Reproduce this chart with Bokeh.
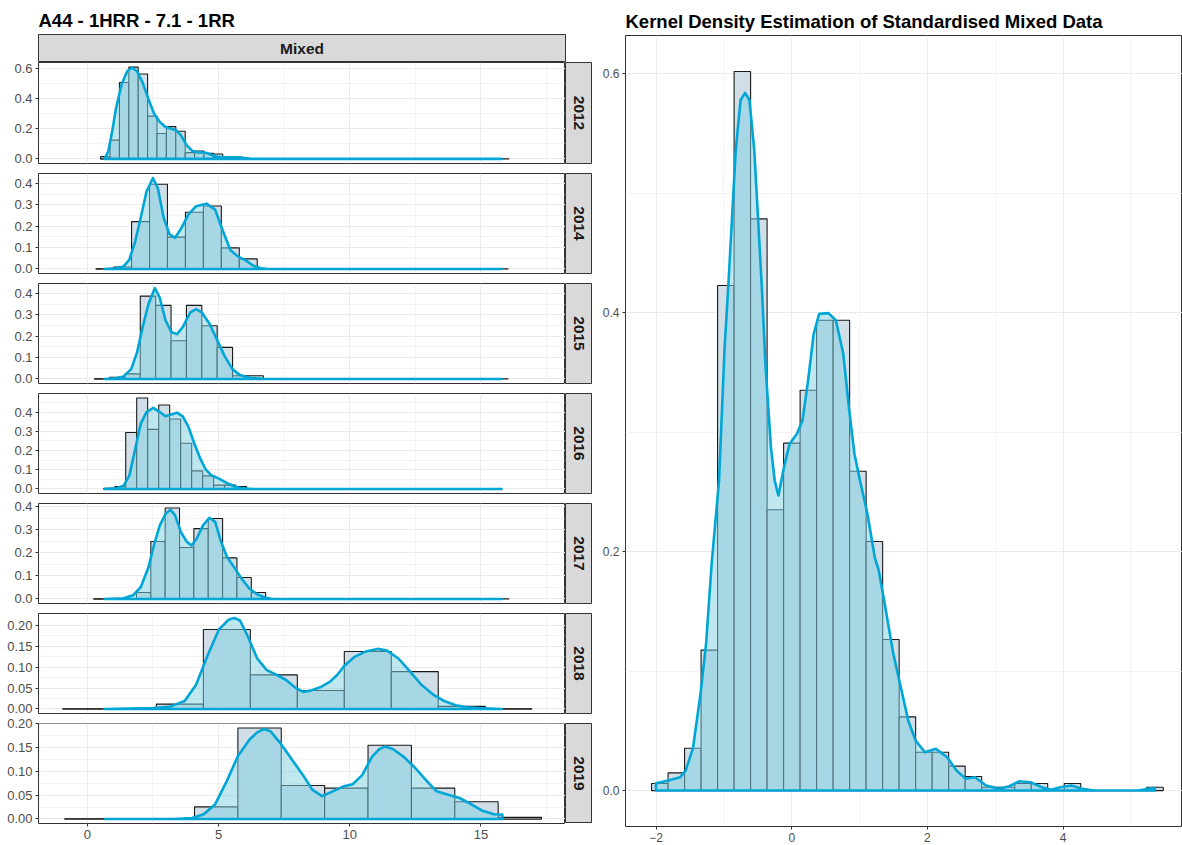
import math
from bokeh.plotting import figure
from bokeh.models import Range1d, FixedTicker, NumeralTickFormatter
from bokeh.layouts import row, column
from bokeh.embed import file_html
from bokeh.resources import INLINE
from bokeh.core.properties import value

FONT = "Liberation Sans"
HIST_FILL = "#d1dee7"
HIST_LINE = "#1a1a1a"
DENS_FILL = "#7dcfe1"
DENS_LINE = "#00a6d6"
STRIP_FILL = "#d9d9d9"
BORDER = "#333333"
GRID = "#ebebeb"

# ---------------- faceted panels: raw mixed values per year ----------------
YEARS = [2012, 2014, 2015, 2016, 2017, 2018, 2019]

# histogram bins: first edge, bin width, bin densities, right end of binned span
hist_start = [0.509, 0.320, 0.262, 0.626, 0.233, -0.946, -0.873]
hist_width = [0.358, 0.684, 0.586, 0.419, 0.547, 1.790, 1.653]
hist_end = [16.08, 16.05, 16.05, 15.75, 16.08, 16.95, 17.31]

hist_2012 = [0.015, 0.125, 0.508, 0.611, 0.565, 0.285, 0.169, 0.215, 0.184,
             0.042, 0.053, 0.037, 0.033, 0.012, 0.012]
hist_2014 = [0.0, 0.009, 0.222, 0.397, 0.149, 0.266, 0.295, 0.099, 0.047]
hist_2015 = [0.0, 0.008, 0.024, 0.388, 0.345, 0.179, 0.345, 0.249, 0.148, 0.015, 0.015]
hist_2016 = [0.003, 0.012, 0.294, 0.473, 0.310, 0.437, 0.364, 0.238, 0.094,
             0.068, 0.020, 0.020, 0.012]
hist_2017 = [0.0, 0.0, 0.0, 0.028, 0.249, 0.394, 0.223, 0.305, 0.349, 0.178, 0.093, 0.028]
hist_2018 = [0.0, 0.0, 0.0117, 0.1907, 0.0817, 0.0444, 0.1377, 0.0895, 0.0062, 0.0]
hist_2019 = [0.0, 0.0, 0.0, 0.0253, 0.191, 0.0703, 0.0648, 0.155, 0.0648, 0.0362, 0.0034]

# kernel density estimates (x, density)
dens_x_2012 = [0.655, 0.800, 0.946, 1.091, 1.309, 1.528, 1.702, 1.891, 2.110, 2.328, 2.546,
               2.764, 2.983, 3.201, 3.390, 3.565, 3.783, 4.001, 4.219, 4.438, 4.656, 4.874,
               5.165, 5.456, 5.820, 6.184, 6.911, 15.786]
dens_y_2012 = [0.0, 0.048, 0.180, 0.333, 0.497, 0.585, 0.607, 0.585, 0.508, 0.399, 0.300,
               0.245, 0.212, 0.201, 0.190, 0.158, 0.092, 0.053, 0.042, 0.044, 0.033, 0.018,
               0.011, 0.011, 0.009, 0.002, 0.0, 0.0]

dens_x_2014 = [0.655, 1.091, 1.382, 1.600, 1.819, 2.037, 2.255, 2.503, 2.692, 2.910, 3.128,
               3.346, 3.565, 3.856, 4.147, 4.540, 4.874, 5.165, 5.456, 5.747, 6.038, 6.329,
               6.620, 6.911, 15.786]
dens_y_2014 = [0.0, 0.003, 0.012, 0.043, 0.126, 0.240, 0.362, 0.426, 0.377, 0.240, 0.164,
               0.146, 0.187, 0.256, 0.294, 0.306, 0.278, 0.179, 0.088, 0.058, 0.040, 0.015,
               0.003, 0.0, 0.0]

dens_x_2015 = [0.655, 1.091, 1.382, 1.673, 1.891, 2.110, 2.328, 2.575, 2.764, 2.983, 3.201,
               3.419, 3.637, 3.928, 4.147, 4.365, 4.656, 4.947, 5.238, 5.529, 5.820, 6.184,
               6.766, 15.786]
dens_y_2015 = [0.0, 0.003, 0.012, 0.046, 0.122, 0.243, 0.350, 0.426, 0.380, 0.274, 0.220,
               0.210, 0.243, 0.312, 0.327, 0.312, 0.259, 0.183, 0.106, 0.046, 0.018, 0.006,
               0.0, 0.0]

dens_x_2016 = [0.655, 1.091, 1.382, 1.600, 1.819, 2.037, 2.255, 2.517, 2.764, 2.983, 3.201,
               3.419, 3.637, 3.856, 4.074, 4.292, 4.510, 4.729, 5.020, 5.311, 5.602, 5.893,
               6.329, 15.786]
dens_y_2016 = [0.0, 0.003, 0.017, 0.068, 0.204, 0.340, 0.400, 0.422, 0.400, 0.378, 0.388,
               0.397, 0.378, 0.323, 0.238, 0.162, 0.102, 0.071, 0.054, 0.031, 0.014, 0.003,
               0.0, 0.0]

dens_x_2017 = [0.655, 1.382, 1.746, 2.037, 2.328, 2.546, 2.764, 2.983, 3.172, 3.346, 3.565,
               3.783, 3.972, 4.176, 4.409, 4.656, 4.874, 5.092, 5.311, 5.602, 5.893, 6.184,
               6.475, 6.766, 7.057, 15.786]
dens_y_2017 = [0.0, 0.003, 0.016, 0.051, 0.136, 0.235, 0.319, 0.369, 0.387, 0.362, 0.291,
               0.249, 0.232, 0.263, 0.319, 0.352, 0.334, 0.249, 0.185, 0.136, 0.086, 0.044,
               0.020, 0.006, 0.0, 0.0]

dens_x_2018 = [0.655, 2.546, 3.128, 3.710, 4.147, 4.583, 5.020, 5.383, 5.602, 5.820, 6.111,
               6.475, 6.838, 7.202, 7.566, 7.930, 8.221, 8.512, 8.875, 9.239, 9.530, 9.821,
               10.185, 10.621, 11.058, 11.421, 11.858, 12.294, 12.731, 13.167, 13.604,
               14.040, 14.477, 14.913, 15.786]
dens_y_2018 = [0.0, 0.002, 0.005, 0.019, 0.058, 0.128, 0.191, 0.214, 0.218, 0.212, 0.175,
               0.121, 0.093, 0.082, 0.070, 0.051, 0.041, 0.044, 0.052, 0.065, 0.082, 0.105,
               0.125, 0.138, 0.144, 0.140, 0.121, 0.090, 0.058, 0.035, 0.019, 0.009,
               0.004, 0.002, 0.0]

dens_x_2019 = [0.684, 3.274, 4.001, 4.438, 4.874, 5.311, 5.747, 6.184, 6.475, 6.737, 6.984,
               7.348, 7.784, 8.221, 8.584, 8.948, 9.312, 9.748, 10.112, 10.476, 10.840,
               11.131, 11.349, 11.640, 12.076, 12.513, 12.949, 13.313, 13.749, 14.186,
               14.622, 15.059, 15.495, 15.815]
dens_y_2019 = [0.0, 0.0, 0.002, 0.010, 0.031, 0.079, 0.133, 0.167, 0.182, 0.189, 0.184,
               0.160, 0.126, 0.092, 0.061, 0.048, 0.057, 0.068, 0.073, 0.092, 0.130,
               0.147, 0.152, 0.147, 0.130, 0.106, 0.079, 0.058, 0.051, 0.044,
               0.031, 0.017, 0.010, 0.009]

hist_by_year = [hist_2012, hist_2014, hist_2015, hist_2016, hist_2017, hist_2018, hist_2019]
dens_x_by_year = [dens_x_2012, dens_x_2014, dens_x_2015, dens_x_2016, dens_x_2017, dens_x_2018, dens_x_2019]
dens_y_by_year = [dens_y_2012, dens_y_2014, dens_y_2015, dens_y_2016, dens_y_2017, dens_y_2018, dens_y_2019]

# axis ticks of the faceted panels
x_ticks = [0, 5, 10, 15]
x_minor = [2.5, 7.5, 12.5, 17.5]
y_ticks_wide = [0.0, 0.2, 0.4, 0.6]
y_minor_wide = [0.1, 0.3, 0.5]
y_ticks_mid = [0.0, 0.1, 0.2, 0.3, 0.4]
y_minor_mid = [0.05, 0.15, 0.25, 0.35, 0.45]
y_ticks_fine = [0.0, 0.05, 0.10, 0.15, 0.20]
y_minor_fine = [0.025, 0.075, 0.125, 0.175]
y_ticks_by_year = [y_ticks_wide] + [y_ticks_mid] * 4 + [y_ticks_fine] * 2
y_minor_by_year = [y_minor_wide] + [y_minor_mid] * 4 + [y_minor_fine] * 2
y_format_by_year = ["0.0"] * 5 + ["0.00"] * 2

# ---------------- standardised data (right panel) ----------------
std_hist_start = -2.066
std_hist_width = 0.2433
std_hist = [0.0059, 0.0148, 0.0354, 0.1175, 0.4228, 0.6019, 0.4785, 0.2350, 0.2908,
            0.3351, 0.3937, 0.3937, 0.2673, 0.2085, 0.1264, 0.0617, 0.0321, 0.0321,
            0.0204, 0.0117, 0.0028, 0.0028, 0.0059, 0.0059, 0.0, 0.0059, 0.0, 0.0,
            0.0, 0.0, 0.0028]
std_dens_x = [-2.000, -1.820, -1.645, -1.563, -1.454, -1.344, -1.262, -1.180, -1.071,
              -0.989, -0.934, -0.825, -0.754, -0.688, -0.623, -0.552, -0.442, -0.388,
              -0.306, -0.251, -0.196, -0.114, -0.032, 0.077, 0.159, 0.241, 0.323, 0.405,
              0.542, 0.651, 0.760, 0.842, 0.924, 1.006, 1.116, 1.225, 1.280, 1.362,
              1.498, 1.608, 1.717, 1.826, 1.963, 2.127, 2.291, 2.428, 2.565, 2.701,
              2.865, 3.056, 3.193, 3.357, 3.521, 3.685, 3.822, 3.958, 4.123, 4.286,
              4.451, 5.107, 5.325, 5.353]
std_dens_y = [0.006, 0.0084, 0.0112, 0.0167, 0.036, 0.081, 0.123, 0.190, 0.260,
              0.371, 0.423, 0.536, 0.578, 0.584, 0.578, 0.536, 0.423, 0.357,
              0.287, 0.2595, 0.247, 0.2707, 0.290, 0.2986, 0.3098, 0.343, 0.382, 0.399,
              0.3996, 0.3935, 0.3656, 0.321, 0.282, 0.2595, 0.2317, 0.195, 0.185, 0.159,
              0.1144, 0.0865, 0.0586, 0.0419, 0.0321, 0.0349, 0.0279, 0.0167, 0.0098, 0.0112,
              0.0042, 0.0014, 0.0033, 0.0078, 0.0070, 0.0028, 0.0006, 0.0028, 0.0042, 0.0014,
              0.0, 0.0, 0.0022, 0.0015]
std_x_ticks = [-2, 0, 2, 4]
std_x_minor = [-1, 1, 3, 5]
std_y_ticks = [0.0, 0.2, 0.4, 0.6]
std_y_minor = [0.1, 0.3, 0.5]

LEFT_TITLE = "A44 - 1HRR - 7.1 - 1RR"
RIGHT_TITLE = "Kernel Density Estimation of Standardised Mixed Data"
FACET_COL = "Mixed"

PANEL_W, PANEL_H, GAP, STRIP_W, LEFT_MARGIN = 527, 100, 10, 27, 38
TOP_PAD = 7  # room above each lower panel so its top tick label is not clipped


def style_axis(ax, ticks, size):
    ax.ticker = FixedTicker(ticks=ticks)
    ax.axis_line_color = None
    ax.major_tick_line_color = BORDER
    ax.major_tick_out = 3
    ax.major_tick_in = 0
    ax.minor_tick_line_color = None
    ax.major_label_text_font = FONT
    ax.major_label_text_font_size = size
    ax.major_label_text_color = "#4d4d4d"
    ax.major_label_standoff = 3


def style_grid(g, ticks, minor):
    g.ticker = FixedTicker(ticks=ticks, minor_ticks=minor)
    g.grid_line_color = GRID
    g.grid_line_width = 1
    g.minor_grid_line_color = GRID
    g.minor_grid_line_width = 0.6


def draw_hist_density(p, start, width, heights, end, dx, dy, dens_width):
    lefts = [start + i * width for i in range(len(heights))]
    rights = [l + width for l in lefts]
    p.segment(x0=[start], y0=[0], x1=[end], y1=[0], line_color=HIST_LINE, line_width=1.3)
    p.quad(left=lefts, right=rights, bottom=0, top=heights,
           fill_color=HIST_FILL, line_color=HIST_LINE, line_width=1.1)
    px = dx + [dx[-1], dx[0]]
    py = dy + [0.0, 0.0]
    p.patch(px, py, fill_color=DENS_FILL, fill_alpha=0.5, line_color=DENS_LINE,
            line_width=dens_width, line_join="round")


def strip_figure(w, h, label, angle, pad_top, pad_bottom):
    s = figure(frame_width=w, frame_height=h, x_range=Range1d(0, 1), y_range=Range1d(0, 1),
               x_axis_location=None, y_axis_location=None, toolbar_location=None,
               output_backend="svg", min_border_left=0, min_border_right=0,
               min_border_top=pad_top, min_border_bottom=pad_bottom,
               background_fill_color=STRIP_FILL, outline_line_color=BORDER,
               outline_line_width=1)
    s.grid.visible = False
    s.text(x=[0.5], y=[0.5], text=[label], angle=angle, text_align="center",
           text_baseline="middle", text_font=value(FONT), text_font_style="bold",
           text_font_size="15.5px", text_color="#1a1a1a")
    return s


# shared x range of the facets: full binned span plus 5% padding
span_lo = min(hist_start)
span_hi = max(hist_end)
pad = 0.05 * (span_hi - span_lo)
facet_x = Range1d(span_lo - pad, span_hi + pad)

# column strip with the overall title
top = figure(frame_width=PANEL_W, frame_height=28, x_range=Range1d(0, 1), y_range=Range1d(0, 1),
             x_axis_location=None, y_axis_location=None, toolbar_location=None,
             output_backend="svg", min_border_left=LEFT_MARGIN, min_border_right=STRIP_W,
             min_border_top=34, min_border_bottom=0, background_fill_color=STRIP_FILL,
             outline_line_color=BORDER, title=LEFT_TITLE)
top.grid.visible = False
top.title.text_font = FONT
top.title.text_font_size = "18.5px"
top.title.text_font_style = "bold"
top.title.text_color = "#000000"
top.title.standoff = 8
top.text(x=[0.5], y=[0.5], text=[FACET_COL], text_align="center", text_baseline="middle",
         text_font=value(FONT), text_font_style="bold", text_font_size="15.5px",
         text_color="#1a1a1a")

rows = [top]
for k, year in enumerate(YEARS):
    first = k == 0
    last = k == len(YEARS) - 1
    pad_top = 0 if first else TOP_PAD
    pad_bottom = 0 if last else GAP - TOP_PAD
    heights = hist_by_year[k]
    dx, dy = dens_x_by_year[k], dens_y_by_year[k]
    ymax = max(max(heights), max(dy))
    p = figure(frame_width=PANEL_W, frame_height=PANEL_H + (1 if first else 0), x_range=facet_x,
               y_range=Range1d(-0.05 * ymax, 1.05 * ymax),
               x_axis_location="below" if last else None,
               toolbar_location=None, output_backend="svg",
               min_border_left=LEFT_MARGIN, min_border_right=0, min_border_top=pad_top,
               min_border_bottom=pad_bottom,
               outline_line_color=BORDER, outline_line_width=1)
    style_grid(p.xgrid[0], x_ticks, x_minor)
    style_grid(p.ygrid[0], y_ticks_by_year[k], y_minor_by_year[k])
    style_axis(p.yaxis[0], y_ticks_by_year[k], "13px")
    p.yaxis[0].formatter = NumeralTickFormatter(format=y_format_by_year[k])
    if last:
        style_axis(p.xaxis[0], x_ticks, "13px")
    draw_hist_density(p, hist_start[k], hist_width[k], heights, hist_end[k], dx, dy, 2.6)
    s = strip_figure(STRIP_W, PANEL_H + (1 if first else 0), str(year), -math.pi / 2,
                     pad_top, pad_bottom)
    rows.append(row(p, s))

left = column(*rows)

# standardised data panel
std_end = std_hist_start + std_hist_width * len(std_hist)
r = figure(frame_width=557, frame_height=791, x_range=Range1d(-2.45, 5.76),
           y_range=Range1d(-0.05 * max(std_hist), 1.05 * max(std_hist)),
           toolbar_location=None, output_backend="svg", title=RIGHT_TITLE,
           min_border_left=33, min_border_right=0, min_border_top=35, min_border_bottom=0,
           outline_line_color=BORDER, outline_line_width=1)
r.title.text_font = FONT
r.title.text_font_size = "18.5px"
r.title.text_font_style = "bold"
r.title.text_color = "#000000"
r.title.standoff = 8
style_grid(r.xgrid[0], std_x_ticks, std_x_minor)
style_grid(r.ygrid[0], std_y_ticks, std_y_minor)
style_axis(r.xaxis[0], std_x_ticks, "12px")
style_axis(r.yaxis[0], std_y_ticks, "12px")
r.yaxis[0].formatter = NumeralTickFormatter(format="0.0")
draw_hist_density(r, std_hist_start, std_hist_width, std_hist, std_end,
                  std_dens_x, std_dens_y, 2.6)

layout = row(left, r)
open("out.html", "w").write(file_html(layout, INLINE))
